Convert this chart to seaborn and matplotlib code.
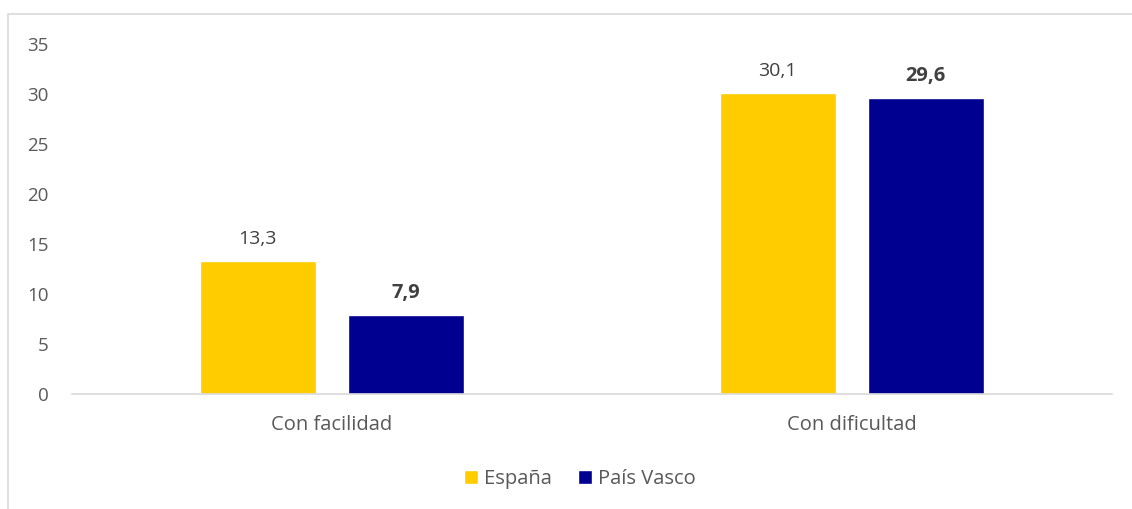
import matplotlib
matplotlib.use('Agg')
import matplotlib.pyplot as plt
import seaborn as sns
import pandas as pd
from matplotlib.patches import Rectangle

# Chart data
categories = ['Con facilidad', 'Con dificultad']
series = ['España', 'País Vasco']
espana = [13.3, 30.1]
pais_vasco = [7.9, 29.6]
yticks = [0, 5, 10, 15, 20, 25, 30, 35]

colors = {'España': '#FFCC00', 'País Vasco': '#000090'}

data = pd.DataFrame({
    'categoria': categories * 2,
    'serie': [series[0]] * 2 + [series[1]] * 2,
    'valor': espana + pais_vasco,
})

sns.set_style('white')
plt.rcParams['font.family'] = ['Open Sans', 'DejaVu Sans']

fig = plt.figure(figsize=(11.32, 5.09), dpi=100)
ax = fig.add_axes([0.0636, 0.225, 0.9184, 0.6876])

sns.barplot(data=data, x='categoria', y='valor', hue='serie', order=categories,
            hue_order=series, palette=colors, width=0.57, gap=0.217,
            saturation=1, ax=ax, legend=True)

ax.set_ylim(0, 35)
ax.set_yticks(yticks)
ax.set_yticklabels([str(t) for t in yticks], fontsize=13.5, color='#595959')
ax.set_xlim(-0.5, 1.5)
ax.tick_params(axis='x', labelsize=14.5, colors='#595959', pad=15, length=0)
ax.tick_params(axis='y', length=0, pad=17)
ax.set_xlabel('')
ax.set_ylabel('')
for side in ['top', 'right', 'left']:
    ax.spines[side].set_visible(False)
ax.spines['bottom'].set_color('#D9D9D9')
ax.spines['bottom'].set_linewidth(1.2)

# value labels
for container, name in zip(ax.containers, series):
    bold = name == 'País Vasco'
    for bar in container:
        h = bar.get_height()
        ax.annotate(f'{h:.1f}'.replace('.', ','),
                    (bar.get_x() + bar.get_width() / 2, h),
                    xytext=(0, 16), textcoords='offset points',
                    ha='center', va='center',
                    fontsize=14.5 if bold else 14,
                    fontweight='bold' if bold else 'normal',
                    color='#404040')

# legend below
handles, labels = ax.get_legend_handles_labels()
ax.legend(handles, labels, loc='center', bbox_to_anchor=(0.512, 0.059),
          bbox_transform=fig.transFigure, ncol=2, frameon=False,
          fontsize=14.5, labelcolor='#595959', handlelength=0.7,
          handleheight=0.7, handletextpad=0.3, columnspacing=1.3)

# outer border
fig.patches.append(Rectangle((8 / 1132, -0.05), 1.1, 1 - 14 / 509 + 0.05,
                             transform=fig.transFigure, fill=False,
                             edgecolor='#D9D9D9', linewidth=1.2))

fig.savefig('out.png', dpi=100)
